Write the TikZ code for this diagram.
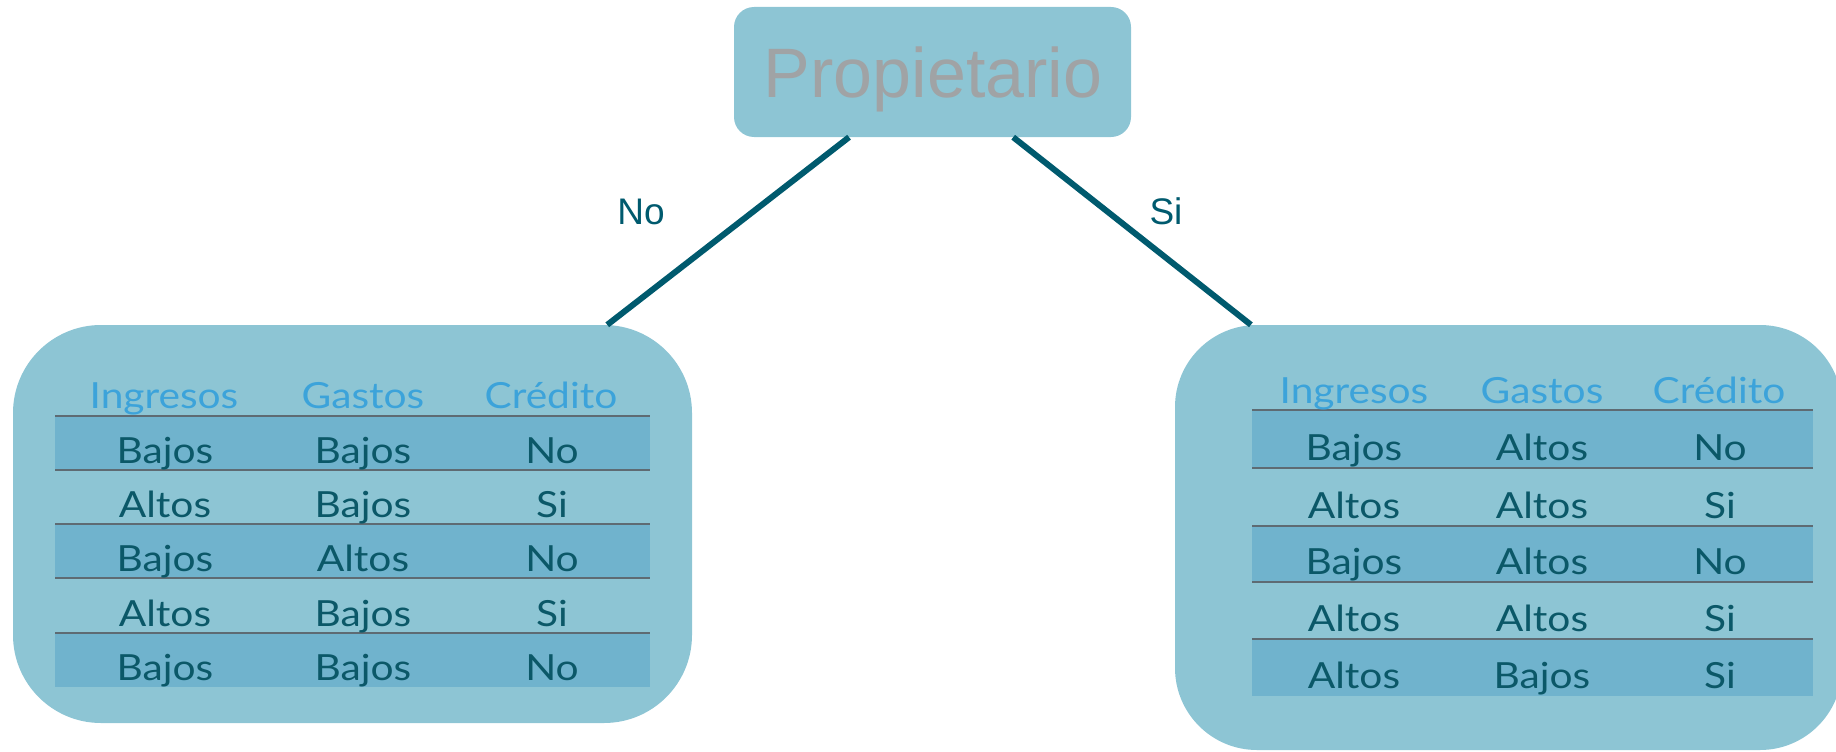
\documentclass[tikz,border=0pt]{standalone}
\usepackage{fontspec}
\setmainfont{Lato}[FakeStretch=1.13]
\newfontfamily\helv{Liberation Sans}
\usetikzlibrary{calc}

\definecolor{boxfill}{HTML}{8DC5D4}
\definecolor{rowfill}{HTML}{70B3CD}
\definecolor{rulecol}{HTML}{5E6B73}
\definecolor{headblue}{HTML}{3CA3DA}
\definecolor{celltext}{HTML}{0B5868}
\definecolor{edgecol}{HTML}{005A6E}
\definecolor{titlegray}{HTML}{A0A3A5}

\tikzset{
  rootbox/.style={rectangle, fill=boxfill, draw=none, rounded corners=20pt,
    minimum width=397pt, minimum height=130pt, inner sep=0pt},
  leafbox/.style={rectangle, fill=boxfill, draw=none, rounded corners=88pt,
    inner sep=0pt},
  titletext/.style={anchor=base, inner sep=0pt, text=titlegray,
    font=\helv\fontsize{70}{80}\selectfont},
  edgelabel/.style={anchor=base, inner sep=0pt, text=edgecol,
    font=\helv\fontsize{37}{42}\selectfont},
  headtext/.style={anchor=base, inner sep=0pt, text=headblue,
    font=\fontsize{36}{40}\selectfont},
  celltxt/.style={anchor=base, inner sep=0pt, text=celltext,
    font=\fontsize{36}{40}\selectfont},
  rowband/.style={fill=rowfill, draw=none},
  tablerule/.style={draw=rulecol, line width=2.5pt},
  edge/.style={draw=edgecol, line width=6pt}
}

\begin{document}
\begin{tikzpicture}[x=1pt, y=-1pt]
\useasboundingbox (0,0) rectangle (1836,752);
\clip (0,0) rectangle (1836,752);

% root and the two leaves
\node[rootbox] (root) at (932.5,72) {};
\node[titletext] (roottext) at (933,97) {Propietario};

\node[leafbox, minimum width=679pt, minimum height=398pt] (noleaf) at (352.5,524) {};
\node[leafbox, minimum width=667pt, minimum height=425pt, rounded corners=82pt] (sileaf) at (1508.5,537.5) {};

% left table: owners without property
\foreach \top/\bot [count=\i] in {416/470,470/524,524/578,578/633,633/687} {
  \ifodd\i \fill[rowband] (55,\top) rectangle (650,\bot); \fi
}
\foreach \y in {416,470,524,578,633} {
  \draw[tablerule] (55,\y) -- (650,\y);
}
\node[headtext] (Lh1) at (164,408) {Ingresos};
\node[headtext] (Lh2) at (363,408) {Gastos};
\node[headtext] (Lh3) at (551,408) {Crédito};
\foreach \bot/\a/\b/\c [count=\i] in
  {470/Bajos/Bajos/No, 524/Altos/Bajos/Si, 578/Bajos/Altos/No,
   633/Altos/Bajos/Si, 687/Bajos/Bajos/No} {
  \node[celltxt] (L\i a) at (165,\bot-7) {\a};
  \node[celltxt] (L\i b) at (363,\bot-7) {\b};
  \node[celltxt] (L\i c) at (552,\bot-7) {\c};
}

% right table: owners with property
\foreach \top/\bot [count=\i] in {410/468,468/526,526/582,582/639,639/696} {
  \ifodd\i \fill[rowband] (1252,\top) rectangle (1813,\bot); \fi
}
\foreach \y in {410,468,526,582,639} {
  \draw[tablerule] (1252,\y) -- (1813,\y);
}
\node[headtext] (Rh1) at (1354,403) {Ingresos};
\node[headtext] (Rh2) at (1542,403) {Gastos};
\node[headtext] (Rh3) at (1719,403) {Crédito};
\foreach \bot/\a/\b/\c [count=\i] in
  {468/Bajos/Altos/No, 526/Altos/Altos/Si, 582/Bajos/Altos/No,
   639/Altos/Altos/Si, 696/Altos/Bajos/Si} {
  \node[celltxt] (R\i a) at (1354,\bot-8) {\a};
  \node[celltxt] (R\i b) at (1542,\bot-8) {\b};
  \node[celltxt] (R\i c) at (1720,\bot-8) {\c};
}

% branches
\draw[edge] ($(root.south west)!0.29!(root.south east)$) -- ($(noleaf.north west)!0.875!(noleaf.north east)$);
\draw[edge] ($(root.south west)!0.703!(root.south east)$) -- ($(sileaf.north west)!0.114!(sileaf.north east)$);
\node[edgelabel] (labno) at (641,224) {No};
\node[edgelabel] (labsi) at (1166,224) {Si};
\end{tikzpicture}
\end{document}
